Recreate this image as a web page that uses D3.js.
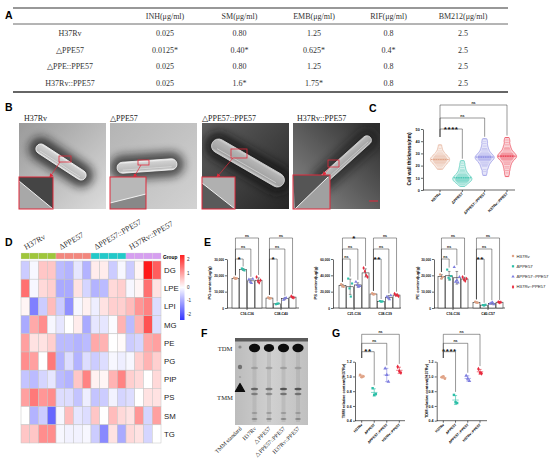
<!DOCTYPE html>
<html>
<head>
<meta charset="utf-8">
<script src="https://cdn.jsdelivr.net/npm/d3@7"></script>
<style>
  body { margin: 0; background: #fff; }
  svg { display: block; font-family: "Liberation Sans", Arial, sans-serif; }
</style>
</head>
<body>
<script>
// ---- shared
var strains = ["H37Rv", "ΔPPE57", "ΔPPE57::PPE57", "H37Rv::PPE57"];
var strainColors = ["#e0a386", "#2dbfa8", "#7d7ddf", "#e8283c"];

// ---- A: MIC table
var micHeader = ["INH(μg/ml)", "SM(μg/ml)", "EMB(μg/ml)", "RIF(μg/ml)", "BM212(μg/ml)"];
var micStrains = ["H37Rv", "△PPE57", "△PPE::PPE57", "H37Rv::PPE57"];
var micINH = ["0.025", "0.0125*", "0.025", "0.025"];
var micSM = ["0.80", "0.40*", "0.80", "1.6*"];
var micEMB = ["1.25", "0.625*", "1.25", "1.75*"];
var micRIF = ["0.8", "0.4*", "0.8", "0.8"];
var micBM212 = ["2.5", "2.5", "2.5", "2.5"];

// ---- B: TEM panels
var temLabels = ["H37Rv", "△PPE57", "△PPE57::PPE57", "H37Rv::PPE57"];

// ---- C: cell wall thickness (nm)
var wallH37Rv = [17, 18, 19, 20, 21, 21.5, 22, 22.5, 23, 23.5, 24, 24, 24.5, 25, 25, 25.5, 26, 26, 26.5, 27, 27.5, 28, 28.5, 29, 30, 31, 32, 34, 37];
var wallDelta = [3, 4.5, 5.5, 6, 6.5, 7, 7.5, 8, 8, 8.5, 9, 9, 9.5, 10, 10, 10.5, 11, 11.5, 12, 12.5, 13, 14, 15, 16, 17, 18.5, 20, 22, 24];
var wallComp = [12, 15, 17, 19, 20, 21, 22, 23, 24, 24.5, 25, 25.5, 26, 26.5, 27, 27, 27.5, 28, 28.5, 29, 30, 31, 32, 33, 34, 36, 38, 40, 42];
var wallOver = [11, 14, 16, 18, 19.5, 21, 22, 23, 24, 25, 25.5, 26, 26.5, 27, 27.5, 28, 28, 28.5, 29, 29.5, 30, 31, 32, 33, 34, 35, 37, 39, 41, 43];
var wallSig = ["****", "ns", "ns"];

// ---- D: lipid heatmap (z-scores, 4 replicates per strain)
var heatRows = ["DG", "LPE", "LPI", "MG", "PE", "PG", "PIP", "PS", "SM", "TG"];
var hmDG  = [-0.6, -0.1, 0.6, 0.6, -0.8, -0.9, -0.3, -0.9, 0.2, 0.2, -0.6, -0.1, -0.6, 0.1, 2.4, 1.7];
var hmLPE = [1.5, -0.1, 0.4, 0.5, -1.0, -1.0, 0.3, -0.5, -0.9, -0.8, 0.4, 0.5, -0.1, 0.1, 1.5, 0.3];
var hmLPI = [0.1, -1.5, -0.6, 0.7, -0.6, -1.3, -0.1, 0.15, -0.2, 0.3, 0.5, 0.5, 0.7, 1.1, 1.3, -0.4];
var hmMG  = [-1.0, 0.9, 1.2, -0.1, -0.3, 0, 0.2, -1.0, -0.3, -0.3, -0.05, 0.8, -0.8, 0.8, 1.8, -0.4];
var hmPE  = [1.0, 0.3, 0.3, 0.5, -0.8, -0.8, -0.9, -0.8, 0.9, 0.8, 0, 0.05, -0.6, -0.5, 0.9, 1.0];
var hmPG  = [1.2, 1.0, 0, 1.4, -0.9, -0.4, -0.9, -0.4, -0.6, -0.4, -0.1, -0.2, -0.1, 0.5, 0.8, 0.5];
var hmPIP = [-0.7, -0.8, -0.5, -0.3, -0.8, -0.9, 0.6, 1.3, 0.15, 0.1, 0.8, 1.3, 0.5, 0.4, 0, 0.4];
var hmPS  = [1.0, 1.4, 1.1, 1.2, -0.4, -0.4, -0.7, -0.2, -0.7, -0.6, -0.15, -0.5, -0.4, 0, 0.3, 0.3];
var hmSM  = [0, -0.9, -0.6, -1.8, -0.1, 0.7, -0.3, -0.4, 0.6, 0, 0.7, 0.4, 0.3, 1.1, -0.5, 1.0];
var hmTG  = [0.6, 0.6, 1.2, 1.2, -0.1, -0.15, -0.15, -0.1, -0.6, -1.4, 0.3, -1.0, 0.4, 0.3, -0.5, 0];
var heatGroupColors = ["#9fc63b", "#f2877e", "#22c9c9", "#d69ff0"];
var heatLegendTicks = [2, 1, 0, -1, -2];

// ---- E: lipid contents (ug/g), replicate points per strain
var pgGroups = ["C16-C36", "C38-C40"];
var pgC16C36 = [[18500, 17800, 18200], [24200, 23600, 23000], [17500, 16000, 15200, 17800], [19000, 16500, 15500, 17000]];
var pgC38C40 = [[6500, 5800, 6000], [2300, 2600, 2800], [5000, 5900, 6200], [7200, 6500, 6300]];
var pgSig = [["*", "ns", "ns"], ["*", "ns", "ns"]];
var psGroups = ["C21-C36", "C38-C39"];
var psC21C36 = [[29000, 27000, 26000], [36000, 24000, 14000, 30000], [32000, 28000, 26000, 27000], [49000, 45000, 40000, 38000]];
var psC38C39 = [[18000, 16500, 17000], [8500, 7800, 8000], [14000, 12500, 10500, 15500], [17500, 15500, 16000, 14500]];
var psSig = [["ns", "ns", "*"], ["**", "ns", "ns"]];
var peGroups = ["C16-C36", "C40-C57"];
var peC16C36 = [[20500, 18000, 19000], [23500, 18500, 17500, 19500], [25000, 16000, 17000, 15500, 19000], [19000, 17500, 16500, 18000]];
var peC40C57 = [[3800, 3300, 3200], [1800, 1500, 2000], [2500, 3200, 3500, 2200], [3700, 3400, 3500]];
var peSig = [["ns", "ns", "ns"], ["**", "ns", "ns"]];

// ---- F: TLC lanes (relative spot darkness)
var tlcLanes = ["TMM standard", "H37Rv", "△PPE57", "△PPE57::PPE57", "H37Rv::PPE57"];
var tlcTDM = [0.2, 1, 0.8, 1, 1];
var tlcTMM = [1, 0.6, 0.5, 0.7, 0.7];

// ---- G: relative contents (/H37Rv)
var tmmRel = [[1.02, 0.99, 1.0], [0.84, 0.75, 0.76], [1.11, 1.02, 0.93], [1.13, 1.07, 1.05]];
var tdmRel = [[0.99, 1.0, 0.97], [0.75, 0.65, 0.64], [1.01, 0.97, 0.94], [1.1, 1.05, 1.04]];
var relTicks = [0.4, 0.6, 0.8, 1.0, 1.2];

var SERIF = "'Liberation Serif', 'Times New Roman', serif";
var svg = d3.select("body").append("svg").attr("width", 550).attr("height", 460);
svg.append("rect").attr("width", 550).attr("height", 460).attr("fill", "#fff");
var defs = svg.append("defs");

defs.append("filter").attr("id", "blur4").attr("x", "-50%").attr("y", "-50%").attr("width", "200%").attr("height", "200%")
    .append("feGaussianBlur").attr("stdDeviation", 4);
defs.append("filter").attr("id", "blurS").attr("x", "-50%").attr("y", "-50%").attr("width", "200%").attr("height", "200%")
    .append("feGaussianBlur").attr("stdDeviation", 0.7);
var rodGrad = defs.append("linearGradient").attr("id", "rodGrad").attr("x1", 0).attr("y1", 0).attr("x2", 0).attr("y2", 1);
[[0, "#f4f4f4"], [0.2, "#cfcfcf"], [0.8, "#b9b9b9"], [1, "#eeeeee"]].forEach(function (s) {
    rodGrad.append("stop").attr("offset", s[0]).attr("stop-color", s[1]);
});
defs.append("marker").attr("id", "redArrow").attr("viewBox", "0 0 10 10").attr("refX", 8).attr("refY", 5)
    .attr("markerWidth", 4).attr("markerHeight", 4).attr("markerUnits", "userSpaceOnUse").attr("orient", "auto")
    .append("path").attr("d", "M0,0L10,5L0,10z").attr("fill", "#e0293b");

function styleAxis(sel, fs) {
    sel.selectAll("path.domain").attr("stroke", "#000").attr("stroke-width", 0.6);
    sel.selectAll(".tick line").attr("stroke", "#000").attr("stroke-width", 0.6);
    sel.selectAll(".tick text").attr("font-size", fs).attr("font-weight", "bold").attr("fill", "#111")
        .attr("font-family", "'Liberation Sans', Arial, sans-serif");
}

function sigBracket(g, x1, x2, yb, y1, y2, label) {
    g.append("path")
        .attr("d", "M" + x1 + "," + y1 + "V" + yb + "H" + x2 + "V" + y2)
        .attr("fill", "none").attr("stroke", "#333").attr("stroke-width", 0.5);
    var star = label.indexOf("*") >= 0;
    g.append("text").attr("x", (x1 + x2) / 2).attr("y", star ? yb + 2.6 : yb - 1.2)
        .attr("text-anchor", "middle").attr("font-size", star ? 8 : 3.6).attr("font-weight", "bold")
        .attr("letter-spacing", star ? 0.6 : 0).attr("fill", "#111").text(label);
}

// panel letters
[["A", 5, 19], ["B", 5, 111], ["C", 369, 112], ["D", 5, 246], ["E", 204, 246], ["F", 201, 337], ["G", 332, 337]].forEach(function (l) {
    svg.append("text").attr("x", l[1]).attr("y", l[2]).attr("font-size", 10.5).attr("font-weight", "bold").text(l[0]);
});

// ================= A: table
var gA = svg.append("g").attr("font-family", SERIF).attr("font-size", 8).attr("fill", "#333");
gA.append("line").attr("x1", 13).attr("x2", 508).attr("y1", 8).attr("y2", 8).attr("stroke", "#333").attr("stroke-width", 1.1);
gA.append("line").attr("x1", 13).attr("x2", 508).attr("y1", 24).attr("y2", 24).attr("stroke", "#444").attr("stroke-width", 0.8);
gA.append("line").attr("x1", 13).attr("x2", 508).attr("y1", 92).attr("y2", 92).attr("stroke", "#666").attr("stroke-width", 2);
var colX = d3.scalePoint().domain(micHeader).range([165, 463]);
var rowY = d3.scalePoint().domain(micStrains).range([33, 83]);
var micCols = [micINH, micSM, micEMB, micRIF, micBM212];
micHeader.forEach(function (h) {
    gA.append("text").attr("x", colX(h)).attr("y", 19).attr("text-anchor", "middle").text(h);
});
micStrains.forEach(function (s, i) {
    gA.append("text").attr("x", 70).attr("y", rowY(s) + 3).attr("text-anchor", "middle").text(s);
    micCols.forEach(function (col, j) {
        gA.append("text").attr("x", colX(micHeader[j])).attr("y", rowY(s) + 3).attr("text-anchor", "middle").text(col[i]);
    });
});

// ================= B: TEM micrographs (drawn illustration)
var temPanels = [
    { x: 19, lx: 24, bg: ["#9a9a9a", "#dcdcdc"], halo: 0.75, rod: [61, 162, 58, 10, 33], roi: [59, 156, 12, 6],
      arrow: [60, 162, 50, 177], inset: [19, 177, 34, 32], wall: [0, 4, 34, 32], ins: ["#454545", "#a8a8a8"] },
    { x: 110, lx: 110, bg: ["#b4b4b4", "#d2d2d2"], halo: 0.7, rod: [147, 166, 60, 11, -4], roi: [138, 160, 11, 5],
      arrow: [141, 165, 134, 177], inset: [110, 177, 36, 32], wall: [0, 26, 36, 17], ins: ["#b8b8b8", "#888888"] },
    { x: 202, lx: 202, bg: ["#5e5e5e", "#262626"], halo: 0.8, rod: [248, 163, 82, 14, 30], roi: [231, 149, 16, 9],
      arrow: [233, 158, 217, 177], inset: [202, 177, 33, 32], wall: [0, 6, 33, 32], ins: ["#b0b0b0", "#5a5a5a"] },
    { x: 293, lx: 297, bg: ["#2c2c2c", "#8c8c8c"], halo: 0.6, rod: [345, 160, 68, 9, -42], roi: [328, 160, 11, 7],
      arrow: [330, 167, 323, 175], inset: [293, 175, 37, 34], wall: [2, 34, 35, 2], ins: ["#555555", "#a0a0a0"] }
];
temPanels.forEach(function (p, k) {
    var g = svg.append("g");
    defs.append("clipPath").attr("id", "temclip" + k)
        .append("rect").attr("x", p.x).attr("y", 123).attr("width", 87).attr("height", 86);
    var lg = defs.append("linearGradient").attr("id", "tembg" + k)
        .attr("x1", k === 3 ? 1 : 0).attr("y1", 0).attr("x2", k === 3 ? 0 : 1).attr("y2", 1);
    lg.append("stop").attr("offset", 0).attr("stop-color", p.bg[0]);
    lg.append("stop").attr("offset", 1).attr("stop-color", p.bg[1]);
    var c = g.append("g").attr("clip-path", "url(#temclip" + k + ")");
    c.append("rect").attr("x", p.x).attr("y", 123).attr("width", 87).attr("height", 86).attr("fill", "url(#tembg" + k + ")");
    var r = p.rod;
    var rodG = c.append("g").attr("transform", "translate(" + r[0] + "," + r[1] + ") rotate(" + r[4] + ")");
    rodG.append("rect").attr("x", -r[2] / 2 - 7).attr("y", -r[3] / 2 - 7).attr("width", r[2] + 14).attr("height", r[3] + 14)
        .attr("rx", (r[3] + 14) / 2).attr("fill", "#151515").attr("opacity", p.halo).attr("filter", "url(#blur4)");
    rodG.append("rect").attr("x", -r[2] / 2).attr("y", -r[3] / 2).attr("width", r[2]).attr("height", r[3])
        .attr("rx", r[3] / 2).attr("fill", "url(#rodGrad)").attr("opacity", k >= 2 ? 0.85 : 1)
        .attr("stroke", "#f4f4f4").attr("stroke-width", 0.8);
    rodG.append("line").attr("x1", -r[2] / 2 + r[3] / 2).attr("x2", r[2] / 2 - r[3] / 2)
        .attr("y1", r[3] * 0.22).attr("y2", r[3] * 0.22).attr("stroke", "#f6f6f6").attr("stroke-width", 0.5).attr("opacity", 0.8);
    // region of interest + arrow
    g.append("rect").attr("x", p.roi[0]).attr("y", p.roi[1]).attr("width", p.roi[2]).attr("height", p.roi[3])
        .attr("fill", "none").attr("stroke", "#e0293b").attr("stroke-width", 0.8);
    g.append("line").attr("x1", p.arrow[0]).attr("y1", p.arrow[1]).attr("x2", p.arrow[2]).attr("y2", p.arrow[3])
        .attr("stroke", "#e0293b").attr("stroke-width", 0.7).attr("marker-end", "url(#redArrow)");
    // zoomed inset
    var ins = p.inset;
    defs.append("clipPath").attr("id", "insclip" + k)
        .append("rect").attr("x", ins[0]).attr("y", ins[1]).attr("width", ins[2]).attr("height", ins[3]);
    var ig = g.append("g").attr("clip-path", "url(#insclip" + k + ")");
    ig.append("rect").attr("x", ins[0]).attr("y", ins[1]).attr("width", ins[2]).attr("height", ins[3]).attr("fill", p.ins[1]);
    var w = p.wall;
    ig.append("path").attr("d", "M" + (ins[0] + w[0]) + "," + (ins[1] + w[1]) + "L" + (ins[0] + w[2]) + "," + (ins[1] + w[3]) +
        "L" + (ins[0] + ins[2]) + "," + ins[1] + "L" + ins[0] + "," + ins[1] + "Z")
        .attr("fill", p.ins[0]).attr("filter", "url(#blurS)");
    ig.append("line").attr("x1", ins[0] + w[0]).attr("y1", ins[1] + w[1]).attr("x2", ins[0] + w[2]).attr("y2", ins[1] + w[3])
        .attr("stroke", "#f2f2f2").attr("stroke-width", 1);
    g.append("rect").attr("x", ins[0]).attr("y", ins[1]).attr("width", ins[2]).attr("height", ins[3])
        .attr("fill", "none").attr("stroke", "#e0293b").attr("stroke-width", 1);
    g.append("text").attr("x", p.lx).attr("y", 121).attr("font-family", SERIF).attr("font-size", 8)
        .attr("fill", "#222").text(temLabels[k]);
});
svg.append("line").attr("x1", 369).attr("x2", 378).attr("y1", 201).attr("y2", 201).attr("stroke", "#e0293b").attr("stroke-width", 1);

// ================= C: violin plot
var gC = svg.append("g");
var cxs = d3.scalePoint().domain(strains).range([440, 507]);
var cys = d3.scaleLinear().domain([0, 50]).range([190, 129]);
gC.append("g").attr("transform", "translate(423,0)")
    .call(d3.axisLeft(cys).tickValues([0, 10, 20, 30, 40, 50]).tickSize(2).tickSizeOuter(0).tickPadding(1.2))
    .call(styleAxis, 3.8);
gC.append("line").attr("x1", 423).attr("x2", 515).attr("y1", 190).attr("y2", 190).attr("stroke", "#000").attr("stroke-width", 0.6);
gC.append("text").attr("transform", "translate(411,159) rotate(-90)").attr("text-anchor", "middle")
    .attr("font-size", 4.8).attr("font-weight", "bold").text("Cell wall thickness(nm)");
function epan(bw) {
    return function (v) { v /= bw; return Math.abs(v) <= 1 ? 0.75 * (1 - v * v) / bw : 0; };
}
[wallH37Rv, wallDelta, wallComp, wallOver].forEach(function (vals, i) {
    var k = epan(4);
    var dens = function (t) { return d3.mean(vals, function (v) { return k(t - v); }); };
    var grid = d3.range(d3.min(vals), d3.max(vals) + 0.001, 0.5).map(function (t) { return [t, dens(t)]; });
    var ws = d3.scaleLinear().domain([0, d3.max(grid, function (d) { return d[1]; })]).range([0, 9]);
    var cx = cxs(strains[i]);
    var area = d3.area().curve(d3.curveCatmullRom)
        .x0(function (d) { return cx - ws(d[1]) - 0.6; })
        .x1(function (d) { return cx + ws(d[1]) + 0.6; })
        .y(function (d) { return cys(d[0]); });
    gC.append("path").datum(grid).attr("d", area).attr("fill", strainColors[i]).attr("fill-opacity", 0.2)
        .attr("stroke", strainColors[i]).attr("stroke-width", 0.6);
    vals.forEach(function (v) {
        var hw = ws(dens(v)) * 0.8;
        gC.append("line").attr("x1", cx - hw).attr("x2", cx + hw).attr("y1", cys(v)).attr("y2", cys(v))
            .attr("stroke", strainColors[i]).attr("stroke-width", 0.35).attr("opacity", 0.8);
    });
    var med = d3.median(vals);
    gC.append("line").attr("x1", cx - ws(dens(med))).attr("x2", cx + ws(dens(med))).attr("y1", cys(med)).attr("y2", cys(med))
        .attr("stroke", strainColors[i]).attr("stroke-width", 0.9).attr("stroke-dasharray", "1.5,0.8");
    gC.append("line").attr("x1", cx).attr("x2", cx).attr("y1", 190).attr("y2", 192).attr("stroke", "#000").attr("stroke-width", 0.6);
    gC.append("text").attr("transform", "translate(" + (cx + 1) + ",194) rotate(-45)").attr("text-anchor", "end")
        .attr("font-size", 3.8).attr("font-weight", "bold").text(strains[i]);
});
var wallTops = [wallDelta, wallComp, wallOver].map(function (v) { return d3.max(v); });
[129, 118, 105].forEach(function (yb, j) {
    sigBracket(gC, cxs(strains[0]), cxs(strains[j + 1]), yb, 137, cys(wallTops[j]) - 2, wallSig[j]);
});

// ================= D: heatmap
var gD = svg.append("g");
var heatValues = [hmDG, hmLPE, hmLPI, hmMG, hmPE, hmPG, hmPIP, hmPS, hmSM, hmTG];
var reps = 4;
var hx = d3.scaleBand().domain(d3.range(strains.length * reps)).range([21, 161]);
var hy = d3.scaleBand().domain(heatRows).range([261, 443]);
var heatColor = d3.scaleLinear().domain([-2.4, 0, 2.4]).range(["#3434ff", "#ffffff", "#ff1a1a"]);
strains.forEach(function (s, gi) {
    d3.range(reps).forEach(function (r) {
        gD.append("rect").attr("x", hx(gi * reps + r)).attr("y", 253).attr("width", hx.bandwidth()).attr("height", 6)
            .attr("fill", heatGroupColors[gi]).attr("stroke", "#d8d8d8").attr("stroke-width", 0.3);
    });
    gD.append("text").attr("transform", "translate(" + (hx(gi * reps) + 5) + ",250) rotate(-30)")
        .attr("font-family", SERIF).attr("font-size", 8).attr("fill", "#333").text(s);
});
heatRows.forEach(function (row, ri) {
    heatValues[ri].forEach(function (v, ci) {
        gD.append("rect").attr("x", hx(ci)).attr("y", hy(row)).attr("width", hx.bandwidth()).attr("height", hy.bandwidth())
            .attr("fill", heatColor(v)).attr("stroke", "#c4c4c4").attr("stroke-width", 0.5);
    });
    gD.append("text").attr("x", 164).attr("y", hy(row) + hy.bandwidth() / 2 + 2.8).attr("font-size", 7.8).attr("fill", "#222").text(row);
});
gD.append("text").attr("x", 163).attr("y", 258.5).attr("font-size", 4.8).attr("font-weight", "bold").text("Group");
var legY = d3.scaleLinear().domain([-2.4, 2.33]).range([320, 255]);
var legGrad = defs.append("linearGradient").attr("id", "heatLeg").attr("x1", 0).attr("y1", 1).attr("x2", 0).attr("y2", 0);
d3.range(0, 1.001, 0.1).forEach(function (t) {
    legGrad.append("stop").attr("offset", t).attr("stop-color", heatColor(-2.4 + t * 4.73));
});
gD.append("rect").attr("x", 180).attr("y", 255).attr("width", 4.5).attr("height", 65).attr("fill", "url(#heatLeg)");
heatLegendTicks.forEach(function (t) {
    gD.append("text").attr("x", 187).attr("y", legY(t) + 1.6).attr("font-size", 4.6).attr("fill", "#333").text(t);
});

// ================= E: bar charts
function barChart(groups, sets, sig, maxV, step, axisX, xEnd, centers, labelX, title) {
    var g = svg.append("g");
    var y = d3.scaleLinear().domain([0, maxV]).range([308, 259]);
    var x0 = d3.scalePoint().domain(groups).range(centers);
    var x1 = d3.scaleBand().domain(strains).range([-15, 15]).paddingInner(0.1);
    g.append("g").attr("transform", "translate(" + axisX + ",0)")
        .call(d3.axisLeft(y).tickValues(d3.range(0, maxV + 1, step)).tickSize(2).tickSizeOuter(0).tickPadding(1))
        .call(styleAxis, 3.2);
    g.append("line").attr("x1", axisX).attr("x2", xEnd).attr("y1", 308).attr("y2", 308).attr("stroke", "#000").attr("stroke-width", 0.6);
    g.append("text").attr("transform", "translate(" + labelX + ",283) rotate(-90)").attr("text-anchor", "middle")
        .attr("font-size", 4.1).attr("font-weight", "bold").text(title);
    groups.forEach(function (grp, gi) {
        var tops = [];
        g.append("line").attr("x1", x0(grp)).attr("x2", x0(grp)).attr("y1", 308).attr("y2", 310).attr("stroke", "#000").attr("stroke-width", 0.6);
        g.append("text").attr("x", x0(grp)).attr("y", 315).attr("text-anchor", "middle").attr("font-size", 3.4)
            .attr("font-weight", "bold").text(grp);
        sets[gi].forEach(function (pts, si) {
            var m = d3.mean(pts), sd = d3.deviation(pts);
            var bx = x0(grp) + x1(strains[si]);
            var bc = bx + x1.bandwidth() / 2;
            g.append("rect").attr("x", bx).attr("y", y(m)).attr("width", x1.bandwidth()).attr("height", 308 - y(m))
                .attr("fill", "#fff").attr("stroke", "#333").attr("stroke-width", 0.6);
            g.append("path").attr("d", "M" + (bc - 1.3) + "," + y(m + sd) + "H" + (bc + 1.3) + "M" + bc + "," + y(m + sd) +
                "V" + y(m - sd) + "M" + (bc - 1.3) + "," + y(m - sd) + "H" + (bc + 1.3))
                .attr("stroke", "#222").attr("stroke-width", 0.45).attr("fill", "none");
            pts.forEach(function (v, pi) {
                g.append("path").attr("d", d3.symbol().type(symbolTypes[si]).size(4.5))
                    .attr("transform", "translate(" + (bc + (pi - (pts.length - 1) / 2) * 1.3) + "," + y(v) + ")")
                    .attr("fill", strainColors[si]);
            });
            tops.push(y(Math.max(d3.max(pts), m + sd)));
        });
        var bar0 = x0(grp) + x1(strains[0]) + x1.bandwidth() / 2;
        [259, 249, 238].forEach(function (yb, j) {
            var tgt = x0(grp) + x1(strains[j + 1]) + x1.bandwidth() / 2;
            sigBracket(g, bar0, tgt, yb, tops[0] - 2.5, tops[j + 1] - 2, sig[gi][j]);
        });
    });
}
var symbolTypes = [d3.symbolCircle, d3.symbolSquare, d3.symbolTriangle, d3.symbolDiamond];
barChart(pgGroups, [pgC16C36, pgC38C40], pgSig, 30000, 10000, 227, 299, [247, 281], 211, "PG content(ug/g)");
barChart(psGroups, [psC21C36, psC38C39], psSig, 60000, 20000, 333, 401, [354, 385], 317, "PS content(ug/g)");
barChart(peGroups, [peC16C36, peC40C57], peSig, 30000, 10000, 434, 505, [453, 488], 419, "PE content(ug/g)");
strains.forEach(function (s, i) {
    var ly = 256 + i * 10.3;
    svg.append("path").attr("d", d3.symbol().type(symbolTypes[i]).size(5)).attr("transform", "translate(513," + ly + ")")
        .attr("fill", strainColors[i]);
    svg.append("text").attr("x", 516.5).attr("y", ly + 1.5).attr("font-size", 4.3).attr("fill", "#222").text(s);
});

// ================= F: TLC plate
var gF = svg.append("g");
var lane = d3.scalePoint().domain(tlcLanes).range([240, 298]);
var plateGrad = defs.append("linearGradient").attr("id", "plateGrad");
[[0, "#bcbcbc"], [0.5, "#d0d0d0"], [1, "#c0c0c0"]].forEach(function (s) {
    plateGrad.append("stop").attr("offset", s[0]).attr("stop-color", s[1]);
});
gF.append("rect").attr("x", 235).attr("y", 338).attr("width", 73).attr("height", 87).attr("fill", "url(#plateGrad)");
gF.append("rect").attr("x", 235).attr("y", 338).attr("width", 73).attr("height", 3.5).attr("fill", "#5a5a5a").attr("filter", "url(#blurS)");
var spots = gF.append("g").attr("filter", "url(#blurS)");
tlcLanes.forEach(function (ln, i) {
    var x = lane(ln);
    if (i === 0) {
        spots.append("circle").attr("cx", x).attr("cy", 347).attr("r", 1.6).attr("fill", "#666").attr("opacity", tlcTDM[i] * 3);
        spots.append("circle").attr("cx", x).attr("cy", 367).attr("r", 2.2).attr("fill", "#555").attr("opacity", 0.75);
        spots.append("circle").attr("cx", x).attr("cy", 377).attr("r", 1.1).attr("fill", "#888").attr("opacity", 0.5);
        spots.append("path").attr("d", "M" + (x - 4.6) + ",391.5L" + x + ",383.5L" + (x + 4.6) + ",391.5Z")
            .attr("fill", "#111").attr("opacity", tlcTMM[i]).attr("stroke", "#111").attr("stroke-width", 1.2)
            .attr("stroke-linejoin", "round");
    } else {
        spots.append("rect").attr("x", x - 2).attr("y", 348).attr("width", 4).attr("height", 74).attr("fill", "#8e8e8e").attr("opacity", 0.25);
        spots.append("ellipse").attr("cx", x).attr("cy", 348).attr("rx", 3.4 + 2.2 * tlcTDM[i]).attr("ry", 2.6 + 1.6 * tlcTDM[i]).attr("fill", "#0d0d0d");
        spots.append("ellipse").attr("cx", x).attr("cy", 368).attr("rx", 3.5).attr("ry", 1.2).attr("fill", "#888").attr("opacity", 0.6);
        spots.append("ellipse").attr("cx", x).attr("cy", 389).attr("rx", 3.6).attr("ry", 1.3).attr("fill", "#2a2a2a").attr("opacity", tlcTMM[i]);
        spots.append("ellipse").attr("cx", x).attr("cy", 394).attr("rx", 3.4).attr("ry", 1.2).attr("fill", "#3a3a3a").attr("opacity", tlcTMM[i] * 0.8);
        spots.append("ellipse").attr("cx", x).attr("cy", 413).attr("rx", 3).attr("ry", 1).attr("fill", "#777").attr("opacity", 0.5);
        spots.append("ellipse").attr("cx", x).attr("cy", 419).attr("rx", 3).attr("ry", 1).attr("fill", "#666").attr("opacity", 0.6);
    }
    gF.append("text").attr("transform", "translate(" + (x + 2) + ",429) rotate(-45)").attr("text-anchor", "end")
        .attr("font-family", SERIF).attr("font-size", 5.8).attr("fill", "#222").text(ln);
});
gF.append("text").attr("x", 225).attr("y", 351).attr("text-anchor", "middle").attr("font-family", SERIF).attr("font-size", 6.6).attr("fill", "#222").text("TDM");
gF.append("text").attr("x", 225).attr("y", 400).attr("text-anchor", "middle").attr("font-family", SERIF).attr("font-size", 6.6).attr("fill", "#222").text("TMM");

// ================= G: relative TMM / TDM
function relPlot(vals, axisX, xEnd, catRange, labelX, title, firstSig) {
    var g = svg.append("g");
    var x = d3.scalePoint().domain(strains).range(catRange);
    var y = d3.scaleLinear().domain([0.4, 1.2]).range([420.7, 361.7]);
    g.append("g").attr("transform", "translate(" + axisX + ",0)")
        .call(d3.axisLeft(y).tickValues(relTicks).tickFormat(d3.format(".1f")).tickSize(2).tickSizeOuter(0).tickPadding(1.2))
        .call(styleAxis, 3.6);
    g.append("line").attr("x1", axisX).attr("x2", xEnd).attr("y1", 420.7).attr("y2", 420.7).attr("stroke", "#000").attr("stroke-width", 0.6);
    g.append("text").attr("transform", "translate(" + labelX + ",391) rotate(-90)").attr("text-anchor", "middle")
        .attr("font-size", 3.9).attr("font-weight", "bold").text(title);
    var tops = [];
    vals.forEach(function (pts, i) {
        var cx = x(strains[i]);
        var m = d3.mean(pts), sd = d3.deviation(pts);
        g.append("line").attr("x1", cx).attr("x2", cx).attr("y1", 420.7).attr("y2", 422.7).attr("stroke", "#000").attr("stroke-width", 0.6);
        g.append("text").attr("transform", "translate(" + (cx + 1) + ",425) rotate(-45)").attr("text-anchor", "end")
            .attr("font-size", 3.5).attr("font-weight", "bold").text(strains[i]);
        g.append("path").attr("d", "M" + (cx - 3.2) + "," + y(m) + "H" + (cx + 3.2) + "M" + (cx - 1.6) + "," + y(m + sd) + "H" + (cx + 1.6) +
            "M" + cx + "," + y(m + sd) + "V" + y(m - sd) + "M" + (cx - 1.6) + "," + y(m - sd) + "H" + (cx + 1.6))
            .attr("stroke", strainColors[i]).attr("stroke-width", 0.6).attr("fill", "none");
        pts.forEach(function (v, pi) {
            g.append("path").attr("d", d3.symbol().type(symbolTypes[i]).size(6))
                .attr("transform", "translate(" + (cx + (pi - 1) * 1.6) + "," + y(v) + ")").attr("fill", strainColors[i]);
        });
        tops.push(y(Math.max(d3.max(pts), m + sd)));
    });
    var labels = [firstSig, "ns", "ns"];
    [351.7, 343.3, 334.3].forEach(function (yb, j) {
        sigBracket(g, x(strains[0]), x(strains[j + 1]), yb, 358, tops[j + 1] - 3, labels[j]);
    });
}
relPlot(tmmRel, 355, 405, [361.7, 399.3], 345, "TMM relative content(/H37Rv)", "**");
relPlot(tdmRel, 436.7, 487, [443.3, 480], 428, "TDM relative content(/H37Rv)", "****");
</script>
</body>
</html>
